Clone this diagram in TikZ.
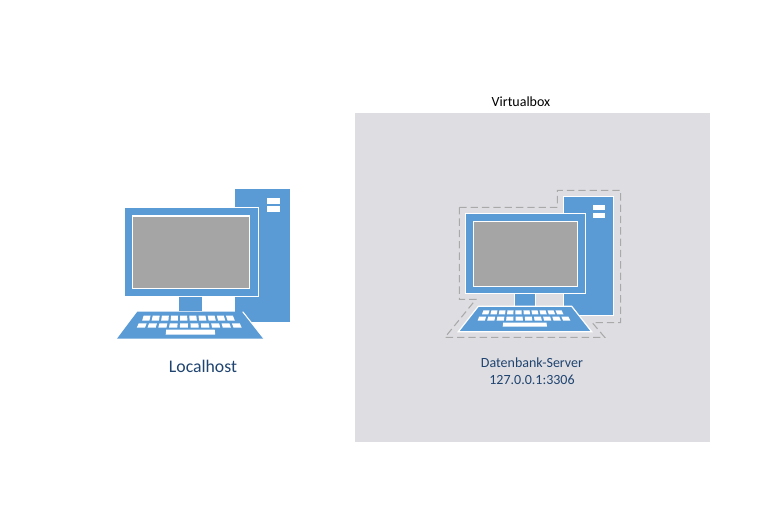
\documentclass[tikz,border=0pt]{standalone}
\usepackage{fontspec}
\setmainfont{Carlito}
\definecolor{pcblue}{HTML}{5B9BD5}
\definecolor{scr}{HTML}{A5A5A5}
\definecolor{vbox}{HTML}{DEDDE2}
\definecolor{lab}{HTML}{1F4470}
\definecolor{dashc}{HTML}{A9A9A9}
\tikzset{
  blueshape/.style={fill=pcblue,draw=none},
  outlined/.style={fill=pcblue,draw=white,line width=0.9pt},
  screenbox/.style={fill=scr,draw=white,line width=0.9pt},
  keycap/.style={fill=white,draw=none},
  pxtext/.style={inner sep=0pt,align=center}
}
% ytop ybot, top left/right of row, bottom left/right of row
\newcommand{\keyrow}[6]{%
  \foreach \i in {0,...,9}{%
    \pgfmathsetmacro{\pa}{\i/10+0.012}%
    \pgfmathsetmacro{\pb}{(\i+1)/10-0.012}%
    \fill[keycap]
      ({#3+(#4-#3)*\pa},#1) -- ({#3+(#4-#3)*\pb},#1) --
      ({#5+(#6-#5)*\pb},#2) -- ({#5+(#6-#5)*\pa},#2) -- cycle;
  }}
\begin{document}
\begin{tikzpicture}[x=0.75pt,y=-0.75pt]
\useasboundingbox (0,0) rectangle (769,513);
\fill[white] (0,0) rectangle (769,513);
% Virtualbox
\fill[vbox] (355,113) rectangle (710,442);
\node[pxtext,font=\fontsize{10.5}{12}\selectfont,text=black] (vblabel) at (521,101.5) {Virtualbox};
% Localhost computer
\fill[blueshape] (235,189) rectangle (290,322);
\fill[white] (267.3,198.3) rectangle (279.7,203.7);
\fill[white] (267.3,206.3) rectangle (279.7,211.7);
\fill[blueshape] (179,297) rectangle (202,311.5);
\draw[outlined] (125,207.7) -- (258.7,207.7) -- (258.7,296.3) -- (125,296.3);
\fill[pcblue] (125,207.9) rectangle (258.2,295.9);
\draw[screenbox] (132.3,216) rectangle (249.7,288.7);
\fill[pcblue] (137.3,311.7) -- (242.7,311.7) -- (264,338.7) -- (117,338.7) -- cycle;
\draw[white,line width=0.8pt] (242.7,311.7) -- (264,338.7);
\keyrow{315.7}{320.7}{142.5}{234}{141}{236}
\keyrow{323.3}{327.7}{137.5}{241}{135.5}{243}
\fill[keycap] (166.2,329.7) -- (214.7,329.7) -- (215.2,334.7) -- (165.7,334.7) -- cycle;
\node[pxtext,font=\fontsize{13.3}{15}\selectfont,text=lab] (localhost) at (203,366) {Localhost};
% Server computer
\draw[dashc,line width=0.8pt,dash pattern=on 5.5pt off 3pt]
  (459.3,207.3) -- (557.3,207.3) -- (557.3,190.3) -- (620.7,190.3) -- (620.7,322.7)
  -- (592.3,322.7) -- (604.7,337.3) -- (445,337.3) -- (476,299.3) -- (459.3,299.3) -- cycle;
\draw[outlined] (563.3,196.3) rectangle (613.7,315.7);
\fill[white] (593.3,205.3) rectangle (604.7,209.7);
\fill[white] (593.3,213.3) rectangle (604.7,217.7);
\draw[outlined] (514.3,293.7) rectangle (535.7,306.3);
\draw[outlined] (465.3,213.3) rectangle (585.7,293.7);
\draw[screenbox] (473.3,221.3) rectangle (577.7,286.3);
\draw[outlined] (478.3,306.3) -- (571.7,306.3) -- (591.7,331.7) -- (458.3,331.7) -- cycle;
\keyrow{310.3}{314.3}{482.5}{562.5}{481}{564.5}
\keyrow{316.7}{320.7}{478}{569.5}{476.5}{571.5}
\fill[keycap] (503.2,322.7) -- (546.5,322.7) -- (547,326.7) -- (502.7,326.7) -- cycle;
\node[pxtext,font=\fontsize{10.5}{12.75}\selectfont,text=lab] (dbserver) at (532,371.5) {Datenbank-Server\\127.0.0.1:3306};
\end{tikzpicture}
\end{document}
